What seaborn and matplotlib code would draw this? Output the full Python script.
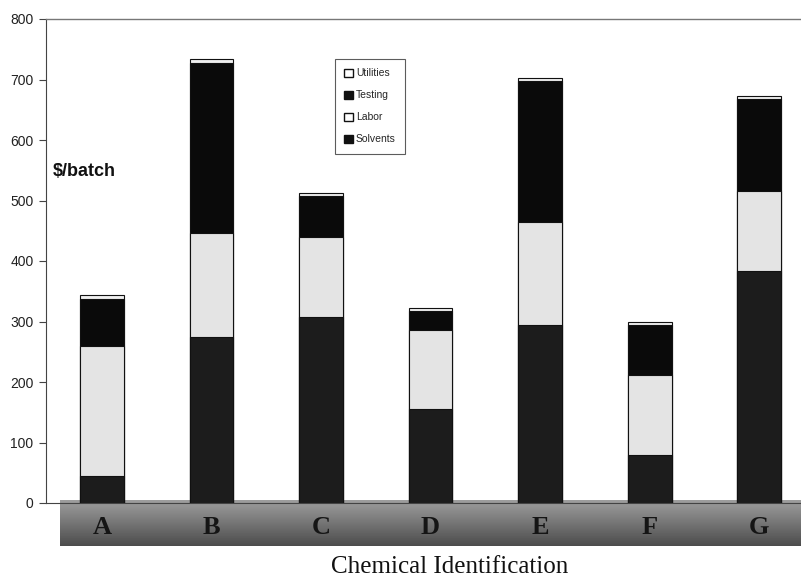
import numpy as np
import pandas as pd
import matplotlib
matplotlib.use("Agg")
import matplotlib.pyplot as plt
import seaborn as sns
from matplotlib.patches import Patch
from matplotlib.transforms import blended_transform_factory

categories = ["A", "B", "C", "D", "E", "F", "G"]
solvents = [45, 275, 308, 155, 294, 80, 384]
labor = [214, 172, 132, 131, 170, 132, 131]
testing = [78, 280, 68, 32, 233, 83, 152]
utilities = [7, 7, 5, 4, 6, 5, 5]
yticks = [0, 100, 200, 300, 400, 500, 600, 700, 800]
ylabel_text = "$/batch"
xlabel_text = "Chemical Identification"

sns.set_theme(style="white")
plt.rcParams["font.family"] = ["Liberation Sans", "DejaVu Sans"]

W, H = 801, 583
fig = plt.figure(figsize=(W / 100, H / 100), dpi=100)
fig.patch.set_facecolor("white")

# gray floor band
band = fig.add_axes([60 / W, 1 - 546 / H, (W - 60) / W, 46 / H], zorder=0)
grad = np.linspace(0.62, 0.30, 64).reshape(-1, 1)
band.imshow(grad, cmap="gray", vmin=0, vmax=1, aspect="auto", extent=[0, 1, 0, 1])
band.set_axis_off()

ax = fig.add_axes([46 / W, 1 - 503 / H, (814 - 46) / W, (503 - 19) / H], zorder=1)
ax.patch.set_alpha(0)

df = pd.DataFrame({"cat": categories, "Solvents": solvents, "Labor": labor,
                   "Testing": testing, "Utilities": utilities})
layers = ["Solvents", "Labor", "Testing", "Utilities"]
colors = {"Solvents": "#1c1c1c", "Labor": "#e4e4e4", "Testing": "#0a0a0a", "Utilities": "#f0f0f0"}
cum = df[layers].cumsum(axis=1)
for layer in reversed(layers):
    sns.barplot(x=df["cat"], y=cum[layer], color=colors[layer], ax=ax, width=0.40,
                edgecolor="#111111", linewidth=0.8, saturation=1, errorbar=None)

ax.set_xlim(-0.51, 6.5)
ax.set_ylim(0, 800)
ax.set_yticks(yticks)
ax.set_yticklabels([str(t) for t in yticks], fontsize=10, color="#222222")
ax.set_xticks([])
ax.set_xlabel("")
ax.set_ylabel("")
ax.tick_params(axis="y", direction="out", length=5, width=0.8, color="#444444", pad=4, left=True)
ax.spines["right"].set_visible(False)
ax.spines["left"].set_color("#444444")
ax.spines["left"].set_linewidth(0.8)
ax.spines["top"].set_color("#777777")
ax.spines["top"].set_linewidth(1.0)
ax.spines["top"].set_linestyle((0, (1, 1)))
ax.spines["bottom"].set_color("#444444")
ax.spines["bottom"].set_linewidth(0.8)

# category letters on the band
tr = blended_transform_factory(ax.transData, fig.transFigure)
for i, c in enumerate(categories):
    ax.text(i, 1 - 528 / H, c, transform=tr, ha="center", va="center",
            fontsize=19, fontweight="bold", family=["Liberation Serif", "DejaVu Serif"],
            color="#151515", clip_on=False)

fig.text(450 / W, 1 - 567 / H, xlabel_text, ha="center", va="center", fontsize=18,
         family=["Liberation Serif", "DejaVu Serif"], color="#111111")
fig.text(53 / W, 1 - 172 / H, ylabel_text, ha="left", va="center", fontsize=13,
         fontweight="bold", color="#111111")

handles = [Patch(facecolor="white", edgecolor="#111111", label="Utilities"),
           Patch(facecolor="#111111", edgecolor="#111111", label="Testing"),
           Patch(facecolor="white", edgecolor="#111111", label="Labor"),
           Patch(facecolor="#111111", edgecolor="#111111", label="Solvents")]
leg = fig.legend(handles=handles, loc="upper left", bbox_to_anchor=(335 / W, 1 - 59 / H),
                 fontsize=7.5, frameon=True, fancybox=False, handlelength=0.8,
                 handleheight=0.8, handletextpad=0.3, labelspacing=1.15,
                 borderpad=0.9, borderaxespad=0)
leg.get_frame().set_edgecolor("#333333")
leg.get_frame().set_linewidth(0.8)

fig.savefig("out.png", dpi=100, facecolor="white")
